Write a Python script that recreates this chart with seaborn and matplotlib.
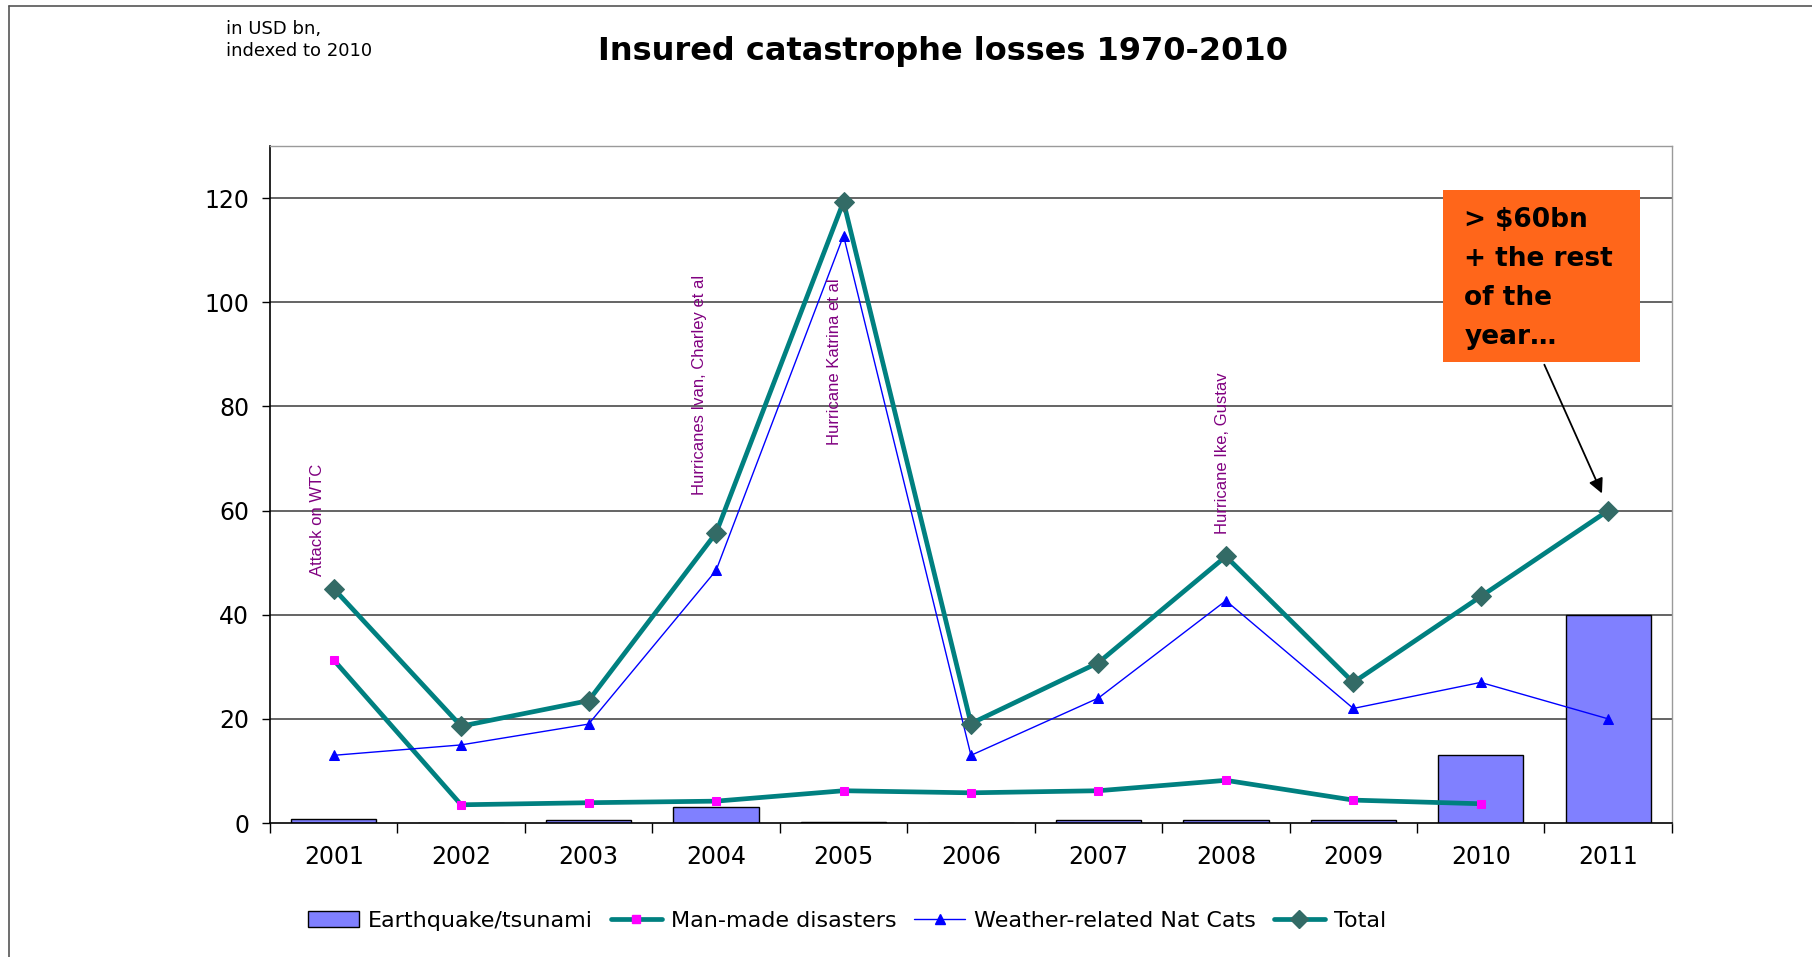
import numpy as np
import pandas as pd
import matplotlib
matplotlib.use("Agg")
import matplotlib.pyplot as plt
import matplotlib.font_manager as fm
from matplotlib.patches import Patch, Rectangle, FancyArrowPatch
from matplotlib.lines import Line2D
import seaborn as sns

# ---- data ----
years = ["2001", "2002", "2003", "2004", "2005", "2006", "2007", "2008", "2009", "2010", "2011"]
earthquake = [0.8, 0.0, 0.5, 3.1, 0.2, 0.0, 0.5, 0.5, 0.5, 13.0, 40.0]
man_made = [31.3, 3.5, 3.9, 4.2, 6.2, 5.8, 6.2, 8.2, 4.4, 3.7, np.nan]
weather = [13.0, 15.0, 19.0, 48.5, 112.8, 13.0, 24.0, 42.7, 22.0, 27.0, 20.0]
total = [45.0, 18.6, 23.5, 55.7, 119.3, 19.1, 30.8, 51.2, 27.0, 43.5, 60.0]
yticks = [0, 20, 40, 60, 80, 100, 120]
legend_labels = ["Earthquake/tsunami", "Man-made disasters", "Weather-related Nat Cats", "Total"]
events = [("Attack on WTC", "2001"), ("Hurricanes Ivan, Charley et al", "2004"),
          ("Hurricane Katrina et al", "2005"), ("Hurricane Ike, Gustav", "2008")]
title = "Insured catastrophe losses 1970-2010"
subtitle = "in USD bn,\nindexed to 2010"
callout = "> $60bn\n+ the rest\nof the\nyear\u2026"

sns.set_theme(style="white")
plt.rcParams["font.family"] = ["DejaVu Sans"]
plt.rcParams["text.color"] = "black"
plt.rcParams["xtick.color"] = "black"
plt.rcParams["ytick.color"] = "black"
plt.rcParams["axes.labelcolor"] = "black"
names = {f.name for f in fm.fontManager.ttflist}
narrow = "Liberation Sans Narrow" if "Liberation Sans Narrow" in names else "Liberation Sans"

TEAL = "#008080"
DIAM = "#336B66"
MAG = "#FF00FF"
BLUE = "#0000FF"
BAR = "#8080FF"

fig = plt.figure(figsize=(18.12, 9.57), dpi=100)
ax = fig.add_axes([0.149, 0.140, 0.7737, 0.7074])

df = pd.DataFrame({"year": years, "eq": earthquake, "mm": man_made, "w": weather, "tot": total})
df["pos"] = np.arange(len(years))

sns.barplot(data=df, x="year", y="eq", order=years, color=BAR, edgecolor="black",
            linewidth=1.0, width=0.67, saturation=1, ax=ax, zorder=2)
sns.lineplot(data=df, x="pos", y="mm", color=TEAL, linewidth=3.4, marker="s", markersize=6,
             markerfacecolor=MAG, markeredgecolor=MAG, ax=ax, zorder=3)
sns.lineplot(data=df, x="pos", y="w", color=BLUE, linewidth=1.0, marker="^", markersize=7,
             markerfacecolor=BLUE, markeredgecolor=BLUE, ax=ax, zorder=4)
sns.lineplot(data=df, x="pos", y="tot", color=TEAL, linewidth=3.4, marker="D", markersize=10,
             markerfacecolor=DIAM, markeredgecolor=DIAM, ax=ax, zorder=5)

ax.set_xlim(-0.5, len(years) - 0.5)
ax.set_ylim(0, 130)
ax.set_yticks(yticks)
ax.set_yticklabels([str(v) for v in yticks], fontsize=17)
ax.set_xticks(np.arange(len(years)))
ax.set_xticklabels(years, fontsize=17)
ax.set_xticks(np.arange(-0.5, len(years), 1), minor=True)
ax.tick_params(axis="x", which="major", length=0, pad=16)
ax.tick_params(axis="x", which="minor", length=7, width=1, color="black", direction="out", bottom=True)
ax.tick_params(axis="y", which="major", length=6, width=1, color="black", direction="out", left=True, pad=9)
ax.set_xlabel("")
ax.set_ylabel("")
for v in yticks[1:]:
    ax.axhline(v, color="#4a4a4a", linewidth=1.2, zorder=1)
for s in ["left", "bottom"]:
    ax.spines[s].set_color("black")
    ax.spines[s].set_linewidth(1.2)
for s in ["top", "right"]:
    ax.spines[s].set_color("#9a9a9a")
    ax.spines[s].set_linewidth(1.0)
for s in ax.spines.values():
    s.set_zorder(6)

# event annotations
ev_offsets = {"2001": (-0.13, 47.5), "2004": (-0.13, 63.0), "2005": (-0.07, 72.5), "2008": (-0.03, 55.5)}
for label, yr in events:
    i = years.index(yr)
    dx, yb = ev_offsets[yr]
    ax.text(i + dx, yb, label, rotation=90, ha="center", va="bottom", color="#800080",
            fontsize=12, family=[narrow, "DejaVu Sans"], zorder=7)

# call-out box
ax.add_patch(Rectangle((8.70, 88.5), 1.55, 33.0, facecolor="#FF661A", edgecolor="none", zorder=8))
ax.text(8.87, 118.2, callout, ha="left", va="top", fontsize=19, fontweight="bold",
        color="black", linespacing=1.65, zorder=9)
ax.add_patch(FancyArrowPatch((9.49, 88.5), (9.96, 62.8), arrowstyle="-|>", mutation_scale=22,
                             color="black", linewidth=1.3, zorder=9))

# titles
fig.text(0.5204, 0.9467, title, ha="center", va="center", fontsize=23, fontweight="bold", color="black")
fig.text(0.1247, 0.979, subtitle, ha="left", va="top", fontsize=13, linespacing=1.3, color="black")

# legend
handles = [Patch(facecolor=BAR, edgecolor="black", linewidth=1.0),
           Line2D([], [], color=TEAL, linewidth=3.4, marker="s", markersize=6, markerfacecolor=MAG, markeredgecolor=MAG),
           Line2D([], [], color=BLUE, linewidth=1.0, marker="^", markersize=7, markerfacecolor=BLUE, markeredgecolor=BLUE),
           Line2D([], [], color=TEAL, linewidth=3.4, marker="D", markersize=9, markerfacecolor=DIAM, markeredgecolor=DIAM)]
fig.legend(handles, legend_labels, loc="center", bbox_to_anchor=(0.4675, 0.0376), ncol=4,
           frameon=False, fontsize=16, handlelength=2.3, handletextpad=0.4, columnspacing=0.8,
           labelcolor="black")

# figure frame (left and top)
fig.add_artist(Line2D([0.005, 0.005], [0.0, 0.994], color="#555555", linewidth=1.2))
fig.add_artist(Line2D([0.005, 1.0], [0.994, 0.994], color="#555555", linewidth=1.2))

fig.savefig("out.png", dpi=100)
